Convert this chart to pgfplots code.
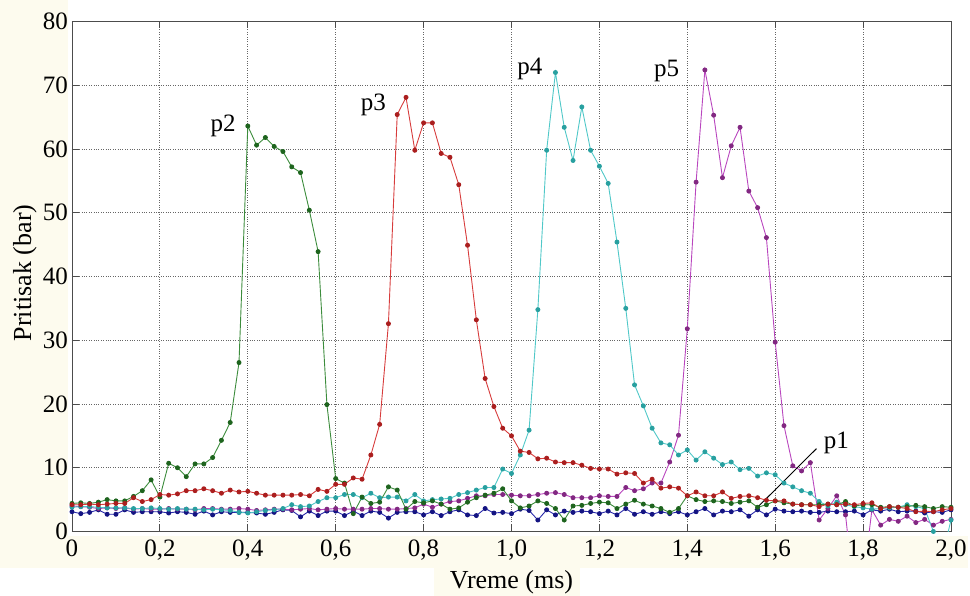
\documentclass[border=0pt]{standalone}
\usepackage{fontspec}
\setmainfont{Liberation Serif}
\usepackage{pgfplots}
\usepackage{pgfplotstable}
\pgfplotsset{compat=1.18}

\definecolor{colG}{RGB}{60,140,60}
\definecolor{colGm}{RGB}{30,100,30}
\definecolor{colR}{RGB}{215,60,60}
\definecolor{colRm}{RGB}{170,30,30}
\definecolor{colC}{RGB}{80,200,200}
\definecolor{colCm}{RGB}{40,160,160}
\definecolor{colM}{RGB}{185,70,190}
\definecolor{colMm}{RGB}{130,40,130}
\definecolor{colB}{RGB}{40,40,170}
\definecolor{colBm}{RGB}{20,20,130}
\definecolor{bgc}{RGB}{253,251,238}

\pgfplotstableread{
x g r c m b
0.00 4.4 4.2 3.8 4.0 3.1
0.02 4.5 4.2 3.9 3.9 2.8
0.04 4.4 4.3 3.9 3.8 3.0
0.06 4.6 4.2 3.8 3.6 3.4
0.08 5.0 4.3 3.7 3.7 2.7
0.10 4.8 4.4 3.7 3.6 2.7
0.12 4.8 4.4 3.7 3.7 3.4
0.14 5.5 5.3 3.6 3.5 3.0
0.16 6.4 4.7 3.6 3.6 3.1
0.18 8.1 5.0 3.7 3.5 3.1
0.20 5.4 5.8 3.6 3.5 3.1
0.22 10.7 5.7 3.5 3.6 2.9
0.24 10.0 5.9 3.6 3.5 3.1
0.26 8.6 6.4 3.5 3.5 3.0
0.28 10.6 6.4 3.5 3.4 2.7
0.30 10.6 6.7 3.4 3.6 3.2
0.32 11.6 6.4 3.5 3.6 2.6
0.34 14.3 6.0 3.4 3.5 3.1
0.36 17.1 6.5 3.3 3.5 3.0
0.38 26.5 6.2 3.0 3.6 3.0
0.40 63.6 6.3 2.9 3.5 3.0
0.42 60.6 6.0 3.1 3.3 2.9
0.44 61.8 5.7 3.3 3.4 2.7
0.46 60.4 5.7 3.4 3.5 3.0
0.48 59.6 5.7 3.6 3.5 3.4
0.50 57.2 5.7 4.2 3.4 3.3
0.52 56.3 5.8 3.9 3.5 2.3
0.54 50.4 5.6 4.0 3.6 3.2
0.56 43.9 6.6 4.7 3.4 2.5
0.58 19.9 6.3 5.3 3.5 3.2
0.60 8.3 7.4 5.3 3.6 3.2
0.62 7.6 7.4 5.8 3.5 2.5
0.64 2.8 8.4 5.8 3.5 3.2
0.66 5.4 8.2 5.3 3.5 2.5
0.68 4.4 12.0 6.0 3.6 3.2
0.70 4.6 16.8 5.3 3.6 3.0
0.72 7.0 32.6 5.4 3.5 2.1
0.74 6.5 65.4 5.4 3.5 3.0
0.76 3.5 68.1 4.8 3.6 3.1
0.78 4.7 59.8 5.8 3.7 3.1
0.80 4.5 64.1 4.8 4.3 2.6
0.82 4.8 64.1 5.0 3.8 3.1
0.84 4.3 59.3 5.1 4.3 2.5
0.86 3.5 58.7 5.2 4.7 3.1
0.88 3.7 54.4 5.8 4.8 3.4
0.90 4.6 44.9 6.1 5.2 2.6
0.92 5.3 33.2 6.5 5.6 2.5
0.94 5.7 24.0 6.9 5.6 3.6
0.96 6.0 19.6 6.9 5.8 2.9
0.98 6.7 16.2 9.8 5.8 3.0
1.00 4.8 15.0 9.1 5.7 2.8
1.02 3.7 12.6 12.0 5.6 3.5
1.04 4.0 12.4 15.9 5.6 3.3
1.06 4.8 11.4 34.8 5.8 1.8
1.08 4.4 11.5 59.8 6.0 3.4
1.10 3.6 10.9 72.0 6.1 2.6
1.12 1.8 10.8 63.4 5.8 3.2
1.14 4.0 10.8 58.2 5.3 3.0
1.16 4.1 10.4 66.6 5.3 3.2
1.18 4.4 9.9 59.8 5.3 3.1
1.20 4.6 9.8 57.3 5.6 2.8
1.22 4.5 9.8 54.6 5.5 3.2
1.24 3.6 9.0 45.4 5.5 2.6
1.26 4.3 9.2 35.0 6.9 3.6
1.28 4.9 9.1 23.0 6.4 2.7
1.30 4.3 7.6 19.7 6.7 3.1
1.32 4.0 8.2 16.2 7.6 2.7
1.34 3.6 6.8 13.9 7.6 3.1
1.36 3.0 7.0 13.6 10.9 2.8
1.38 3.6 6.8 12.0 15.1 3.1
1.40 5.6 5.6 12.8 31.8 2.6
1.42 5.0 6.2 11.2 54.8 3.1
1.44 4.7 5.6 12.5 72.4 3.6
1.46 4.8 5.6 11.5 65.3 2.6
1.48 4.7 6.2 10.5 55.5 3.2
1.50 4.4 5.2 10.9 60.5 3.1
1.52 4.6 5.5 9.7 63.4 3.4
1.54 4.8 5.6 9.9 53.4 2.4
1.56 3.8 5.3 8.7 50.8 3.4
1.58 4.2 4.9 9.2 46.1 2.6
1.60 4.8 4.8 8.9 29.7 3.5
1.62 4.5 4.8 7.6 16.6 3.2
1.64 4.3 4.3 7.0 10.3 3.1
1.66 4.2 4.2 6.4 9.5 3.2
1.68 4.2 4.2 6.0 10.8 3.0
1.70 4.2 3.9 4.7 1.8 3.0
1.72 4.3 4.3 4.0 3.6 3.2
1.74 4.2 4.2 4.6 5.6 3.1
1.76 4.7 4.3 4.2 2.6 3.1
1.78 4.0 4.2 3.9 -10 3.2
1.80 4.2 4.4 3.7 -8 2.6
1.82 4.2 4.5 3.5 3.4 3.4
1.84 3.8 3.6 3.6 1.0 3.2
1.86 3.9 3.9 3.7 1.9 3.5
1.88 3.8 3.8 3.8 1.6 3.1
1.90 3.9 3.6 4.2 2.4 3.2
1.92 4.1 3.1 3.9 1.4 3.2
1.94 3.9 3.2 3.6 1.9 2.9
1.96 3.6 3.1 0.0 1.0 3.1
1.98 3.9 3.4 -4 1.6 3.0
2.00 3.8 3.6 1.8 1.9 3.4
}\datatable

\begin{document}
\begin{tikzpicture}
\useasboundingbox (-72pt,-64.5pt) rectangle (898pt,531.5pt);
\fill[bgc] (-72pt,-36.5pt) rectangle (-4pt,531.5pt);
\fill[bgc] (-72pt,-4.5pt) rectangle (896pt,-36.5pt);
\fill[bgc] (362pt,-36.5pt) rectangle (508pt,-64.5pt);
\begin{axis}[
  at={(0pt,0pt)}, anchor=south west,
  scale only axis, width=879pt, height=510pt,
  xmin=0, xmax=2, ymin=0, ymax=80,
  xtick={0,0.2,0.4,0.6,0.8,1.0,1.2,1.4,1.6,1.8,2.0},
  xticklabels={0,{0,2},{0,4},{0,6},{0,8},{1,0},{1,2},{1,4},{1,6},{1,8},{2,0}},
  ytick={0,10,20,30,40,50,60,70,80},
  grid=major,
  major grid style={dotted, black!60, line width=0.8pt},
  tick align=inside, major tick length=7pt,
  tick style={black!70, line width=0.8pt},
  axis line style={black!70, line width=0.8pt},
  /pgf/number format/assume math mode=true,
  ticklabel style={font=\fontsize{25}{29}\selectfont},
  xticklabel style={inner sep=0pt, anchor=north, yshift=-8pt},
  yticklabel style={inner sep=0pt, anchor=east, xshift=-4pt},
  xlabel={Vreme (ms)}, ylabel={Pritisak (bar)},
  xlabel style={font=\fontsize{26}{30}\selectfont, inner sep=0pt, at={(axis description cs:0.5,-0.1125)}, anchor=base},
  ylabel style={font=\fontsize{26}{30}\selectfont, at={(axis description cs:-0.0535,0.507)}, anchor=center},
  every axis plot/.append style={line width=0.9pt, mark=*, mark size=2pt},
]
\addplot[colB, mark options={fill=colBm, draw=colBm}] table[x=x, y=b] {\datatable};
\addplot[colM, mark options={fill=colMm, draw=colMm}] table[x=x, y=m] {\datatable};
\addplot[colC, mark options={fill=colCm, draw=colCm}] table[x=x, y=c] {\datatable};
\addplot[colG, mark options={fill=colGm, draw=colGm}] table[x=x, y=g] {\datatable};
\addplot[colR, mark options={fill=colRm, draw=colRm}] table[x=x, y=r] {\datatable};
\draw[black, line width=0.9pt] (axis cs:1.554,3.4) -- (axis cs:1.694,13.0);
\node[font=\fontsize{25}{29}\selectfont] at (axis cs:1.739,13.9) {p1};
\node[font=\fontsize{25}{29}\selectfont] at (axis cs:0.344,63.7) {p2};
\node[font=\fontsize{25}{29}\selectfont] at (axis cs:0.686,66.9) {p3};
\node[font=\fontsize{25}{29}\selectfont] at (axis cs:1.042,72.6) {p4};
\node[font=\fontsize{25}{29}\selectfont] at (axis cs:1.353,72.3) {p5};
\end{axis}
\end{tikzpicture}
\end{document}
